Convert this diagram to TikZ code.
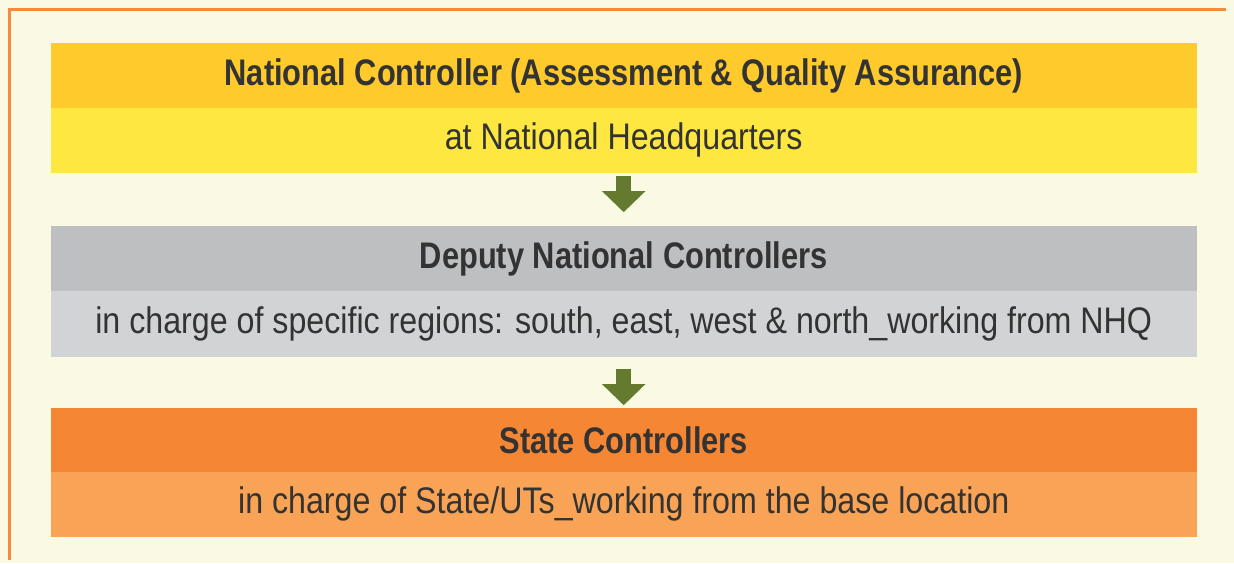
\documentclass[tikz,border=0pt]{standalone}
\usepackage{fontspec}
\setmainfont[FakeStretch=0.87, BoldFeatures={FakeStretch=0.833}]{Liberation Sans}
\usetikzlibrary{arrows.meta,positioning}

\definecolor{pagebg}{HTML}{FAF9E3}
\definecolor{frameorange}{HTML}{F68A3A}
\definecolor{textgray}{HTML}{333333}
\definecolor{arrowgreen}{HTML}{637A2F}
\definecolor{nhqhead}{HTML}{FFCA2B}
\definecolor{nhqbody}{HTML}{FDE740}
\definecolor{dnchead}{HTML}{BEBFC1}
\definecolor{dncbody}{HTML}{D2D3D5}
\definecolor{sthead}{HTML}{F48634}
\definecolor{stbody}{HTML}{F8A355}

\tikzset{
  band/.style={rectangle, inner sep=0pt, minimum width=1144.6pt,
    fill=#1, draw=#1, line width=0.4pt,
    text=textgray, font=\fontsize{37}{40}\selectfont},
  headband/.style={band=#1, minimum height=64.6pt, font=\fontsize{37}{40}\selectfont\bfseries},
  bodyband/.style={band=#1, minimum height=63.6pt},
  blockarrow/.style={draw=arrowgreen, line width=15pt,
    -{Triangle[width=42pt,length=21pt]}}
}

\begin{document}
\begin{tikzpicture}[x=1pt, y=-1pt]
  % page and frame
  \fill[pagebg] (0,0) rectangle (1234,563);
  \useasboundingbox (0,0) rectangle (1234,563);
  \draw[frameorange, line width=3pt] (1226,9.5) -- (9.5,9.5) -- (9.5,560);

  % national level
  \node[headband=nhqhead, anchor=north west] (nhqhead) at (51.2,43.2)
    {National Controller (Assessment \& Quality Assurance)};
  \node[bodyband=nhqbody, below=0pt of nhqhead] (nhqbody)
    {at National Headquarters};

  % deputy level
  \node[headband=dnchead, anchor=north west] (dnchead) at (51.2,226.2)
    {Deputy National Controllers};
  \node[bodyband=dncbody, below=0pt of dnchead, minimum height=64.6pt] (dncbody)
    {in charge of specific regions: south, east, west \& north\_working from NHQ};

  % state level
  \node[headband=sthead, anchor=north west, minimum height=63.6pt] (sthead) at (51.2,408.2)
    {State Controllers};
  \node[bodyband=stbody, below=0pt of sthead] (stbody)
    {in charge of State/UTs\_working from the base location};

  % arrows
  \draw[blockarrow, shorten <=4pt, shorten >=14pt] (nhqbody.south) -- (dnchead.north);
  \draw[blockarrow, shorten <=13pt, shorten >=3pt] (dncbody.south) -- (sthead.north);
\end{tikzpicture}
\end{document}
